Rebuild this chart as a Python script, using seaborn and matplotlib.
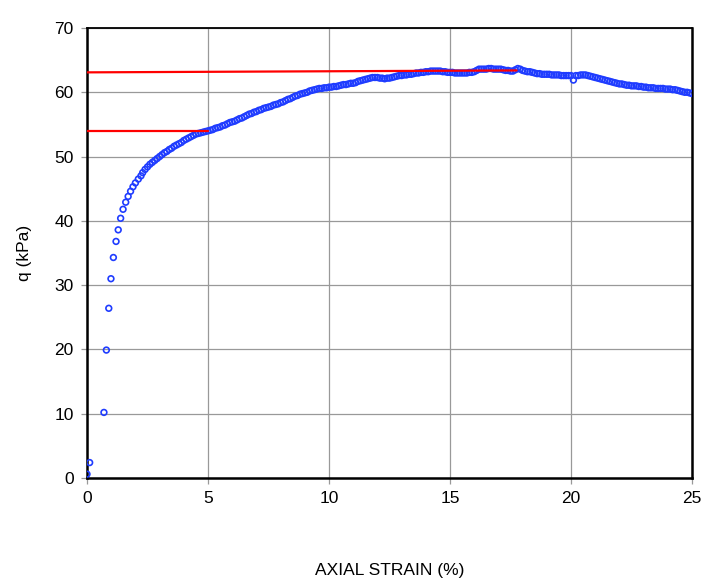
import numpy as np
import pandas as pd
import matplotlib
matplotlib.use('Agg')
import matplotlib.pyplot as plt
import seaborn as sns

# early readings (irregular spacing)
strain_early = [0.0, 0.11, 0.70, 0.80, 0.90, 0.99, 1.09, 1.20, 1.29, 1.39,
                1.49, 1.60, 1.70, 1.80, 1.90, 2.00, 2.12, 2.23]
q_early = [0.6, 2.4, 10.2, 19.9, 26.4, 31.0, 34.3, 36.8, 38.6, 40.4,
           41.8, 42.9, 43.8, 44.6, 45.3, 45.9, 46.5, 47.0]

# later readings, every 0.1 % strain starting at 2.3 %
strain_start = 2.3
strain_step = 0.1
q_late = [
    47.5, 48.0, 48.4, 48.8, 49.1, 49.4, 49.7,
    50.0, 50.3, 50.6, 50.8, 51.1, 51.3, 51.6, 51.8, 52.0, 52.2,
    52.5, 52.7, 52.9, 53.1, 53.3, 53.5, 53.6, 53.7, 53.8, 53.9,
    54.0, 54.1, 54.2, 54.4, 54.5, 54.6, 54.8, 54.9, 55.1, 55.3,
    55.4, 55.5, 55.7, 55.9, 56.0, 56.2, 56.4, 56.6, 56.7, 56.9,
    57.0, 57.2, 57.3, 57.5, 57.6, 57.7, 57.8, 58.0, 58.1, 58.2,
    58.4, 58.5, 58.7, 58.9, 59.0, 59.2, 59.4, 59.5, 59.7, 59.8,
    59.9, 60.0, 60.2, 60.3, 60.4, 60.5, 60.6, 60.6, 60.7, 60.7,
    60.8, 60.8, 60.9, 60.9, 61.0, 61.1, 61.2, 61.2, 61.3, 61.4,
    61.4, 61.5, 61.7, 61.8, 61.9, 62.0, 62.1, 62.2, 62.3, 62.3,
    62.3, 62.2, 62.2, 62.1, 62.2, 62.2, 62.3, 62.4, 62.5, 62.6,
    62.6, 62.7, 62.7, 62.8, 62.8, 62.9, 63.0, 63.0, 63.1, 63.1,
    63.2, 63.2, 63.3, 63.3, 63.3, 63.3, 63.3, 63.2, 63.2, 63.1,
    63.1, 63.1, 63.0, 63.0, 63.0, 63.0, 63.0, 63.0, 63.1, 63.1,
    63.2, 63.4, 63.6, 63.6, 63.6, 63.6, 63.7, 63.7, 63.6, 63.6,
    63.6, 63.6, 63.5, 63.4, 63.4, 63.3, 63.3, 63.5, 63.7, 63.6,
    63.4, 63.3, 63.2, 63.2, 63.1, 63.0, 62.9, 62.9, 62.8, 62.8,
    62.8, 62.8, 62.7, 62.7, 62.7, 62.7, 62.6, 62.6, 62.6, 62.6,
    62.6, 61.9, 62.6, 62.6, 62.7, 62.7, 62.7, 62.6, 62.5, 62.4,
    62.3, 62.2, 62.1, 62.0, 61.9, 61.8, 61.7, 61.6, 61.5, 61.4,
    61.3, 61.3, 61.2, 61.1, 61.1, 61.0, 61.0, 61.0, 60.9, 60.9,
    60.8, 60.8, 60.7, 60.7, 60.7, 60.6, 60.6, 60.6, 60.6, 60.5,
    60.5, 60.5, 60.4, 60.4, 60.3, 60.2, 60.1, 60.0, 60.0, 59.9,
    59.8,
]

# red reference lines
peak_x = [0.0, 17.75]
peak_q = [63.1, 63.4]
half_x = [0.0, 5.0]
half_q = [54.0, 54.0]

strain_late = np.round(strain_start + strain_step * np.arange(len(q_late)), 2)
df = pd.DataFrame({
    'strain': np.concatenate([strain_early, strain_late]),
    'q': np.concatenate([q_early, q_late]),
})

sns.set_style('white')
plt.rcParams['font.family'] = ['Liberation Sans', 'DejaVu Sans']
plt.rcParams['text.color'] = 'black'
plt.rcParams['axes.labelcolor'] = 'black'

fig = plt.figure(figsize=(7.04, 5.82), dpi=100)
ax = fig.add_axes([87 / 704, 1 - 478 / 582, 605 / 704, 450 / 582])

sns.scatterplot(data=df, x='strain', y='q', ax=ax, marker='o', s=17,
                facecolor='none', edgecolor='#1f3cff', linewidth=1.2, zorder=3)
sns.lineplot(x=peak_x, y=peak_q, ax=ax, color='red', linewidth=1.6, zorder=4)
sns.lineplot(x=half_x, y=half_q, ax=ax, color='red', linewidth=1.6, zorder=4)

ax.set_xlim(0, 25)
ax.set_ylim(0, 70)
ax.set_xticks(range(0, 26, 5))
ax.set_yticks(range(0, 71, 10))
ax.grid(True, color='#999999', linewidth=0.9)
ax.set_axisbelow(True)
ax.tick_params(axis='both', which='major', direction='out', length=4.5,
               width=0.9, color='#999999', labelcolor='black',
               labelsize=12.5, pad=5, left=True, bottom=True)
for side in ['left', 'bottom', 'right']:
    ax.spines[side].set_linewidth(1.8)
    ax.spines[side].set_color('black')
ax.spines['top'].set_linewidth(1.3)
ax.spines['top'].set_color('black')

ax.set_xlabel('AXIAL STRAIN (%)', fontsize=12.5, labelpad=41)
ax.set_ylabel('q (kPa)', fontsize=12.5, labelpad=16)

fig.savefig('out.png', dpi=100)
